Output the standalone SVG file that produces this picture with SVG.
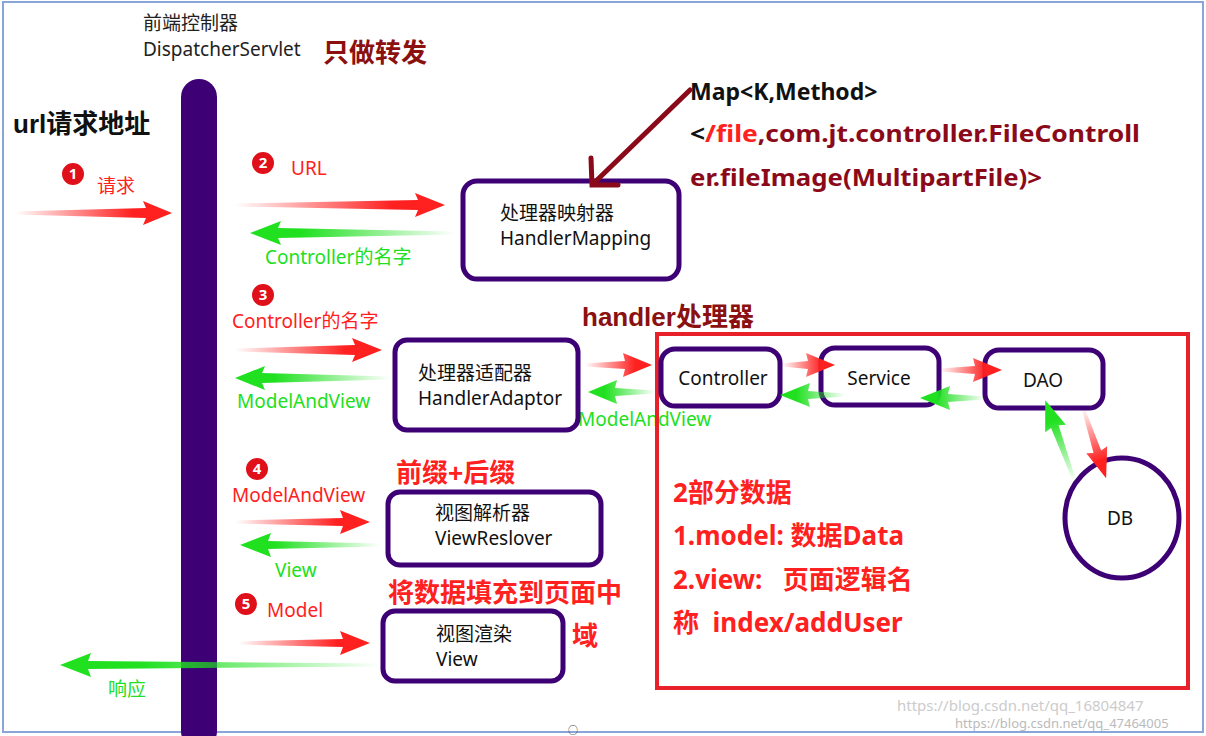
<svg xmlns="http://www.w3.org/2000/svg" width="1206" height="736" viewBox="0 0 1206 736">
<defs>
<linearGradient id="gr" x1="0" y1="0" x2="1" y2="0"><stop offset="0" stop-color="#ff2020" stop-opacity="0"/><stop offset="0.75" stop-color="#ff2020"/></linearGradient>
<linearGradient id="gl" x1="1" y1="0" x2="0" y2="0"><stop offset="0" stop-color="#20e020" stop-opacity="0"/><stop offset="0.75" stop-color="#20e020"/></linearGradient>
<linearGradient id="gg" x1="0" y1="0" x2="1" y2="0"><stop offset="0" stop-color="#20e020" stop-opacity="0"/><stop offset="0.75" stop-color="#20e020"/></linearGradient>
</defs>
<style>
text{font-family:"Noto Sans","Noto Sans CJK SC",sans-serif}
.n{font-size:19px;fill:#111}
.box{fill:#fff;stroke:#3d0075;stroke-width:5}
.r{fill:url(#gr)}
.l{fill:url(#gl)}
.g{fill:url(#gg)}
.red{fill:#ff2020;font-size:19px}
.grn{fill:#20e020;font-size:19px}
.bd{font-family:"Liberation Sans","Noto Sans CJK SC",sans-serif;font-weight:bold}
.pre{white-space:pre}
.badge circle{fill:#e0101a;stroke:#fff;stroke-width:2}
.badge text{fill:#fff;font-size:15px;font-weight:bold;text-anchor:middle}
</style>
<rect x="0" y="0" width="1206" height="736" fill="#fff"/>
<rect x="3" y="2" width="1200" height="730" fill="none" stroke="#8aa6d8" stroke-width="2"/>

<g id="dispatcher">
<rect x="181" y="79" width="36" height="670" rx="18" fill="#3d0075"/>
<text x="143" y="30" font-size="19" fill="#222">前端控制器</text>
<text x="143" y="56" font-size="19" fill="#222">DispatcherServlet</text>
<text x="323" y="62" class="bd" font-size="26" fill="#8b1010">只做转发</text>
</g>
<text x="13" y="133" class="bd" font-size="26" fill="#111">url请求地址</text>

<g id="badges">
<g class="badge"><circle cx="73" cy="174" r="12"/><text x="73" y="179">1</text></g>
<g class="badge"><circle cx="263" cy="163" r="12"/><text x="263" y="168">2</text></g>
<g class="badge"><circle cx="263" cy="295" r="12"/><text x="263" y="300">3</text></g>
<g class="badge"><circle cx="257" cy="469" r="12"/><text x="257" y="474">4</text></g>
<g class="badge"><circle cx="246" cy="604" r="12"/><text x="246" y="609">5</text></g>
</g>

<g id="labels">
<text x="97" y="193" class="red">请求</text>
<text x="291" y="175" class="red">URL</text>
<text x="265" y="264" class="grn">Controller的名字</text>
<text x="232" y="328" class="red">Controller的名字</text>
<text x="237" y="408" class="grn">ModelAndView</text>
<text x="578" y="426" class="grn">ModelAndView</text>
<text x="232" y="502" class="red">ModelAndView</text>
<text x="275" y="577" class="grn">View</text>
<text x="267" y="617" class="red">Model</text>
<text x="108" y="696" class="grn" font-size="18">响应</text>
<text x="396" y="482" class="bd" font-size="26" fill="#ff2020">前缀+后缀</text>
<text x="388" y="602" class="bd" font-size="26" fill="#ff2020">将数据填充到页面中</text>
<text x="572" y="645" class="bd" font-size="26" fill="#ff2020">域</text>
<text x="582" y="326" class="bd" font-size="26" fill="#8b1010">handler处理器</text>
</g>

<g id="maptext" class="bd" font-size="23">
<text x="690" y="100" fill="#111">Map&lt;K,Method&gt;</text>
<text x="690" y="142" fill="#8b0a1a" textLength="450" lengthAdjust="spacingAndGlyphs"><tspan fill="#111">&lt;</tspan><tspan fill="#ff2020">/file</tspan>,com.jt.controller.FileControll</text>
<text x="690" y="186" fill="#8b0a1a" textLength="352" lengthAdjust="spacingAndGlyphs">er.fileImage(MultipartFile)&gt;</text>
</g>

<g id="mapping"><rect class="box" x="463" y="181" width="216" height="98" rx="14"/>
<text class="n" x="500" y="220">处理器映射器</text><text class="n" x="500" y="245">HandlerMapping</text></g>
<g id="adaptor"><rect class="box" x="395" y="340" width="183" height="90" rx="12"/>
<text class="n" x="418" y="380">处理器适配器</text><text class="n" x="418" y="405">HandlerAdaptor</text></g>
<g id="resolver"><rect class="box" x="388" y="492" width="213" height="73" rx="12"/>
<text class="n" x="435" y="520">视图解析器</text><text class="n" x="435" y="545">ViewReslover</text></g>
<g id="view"><rect class="box" x="383" y="611" width="180" height="70" rx="12"/>
<text class="n" x="436" y="641">视图渲染</text><text class="n" x="436" y="666">View</text></g>

<g id="handler">
<rect x="657" y="334" width="531" height="354" fill="none" stroke="#e8202a" stroke-width="4"/>
<g class="bd" font-size="26" fill="#ff2020">
<text x="673" y="502">2部分数据</text>
<text x="673" y="545">1.model: 数据Data</text>
<text class="pre" x="673" y="589">2.view:   页面逻辑名</text>
<text class="pre" x="673" y="632">称  index/addUser</text>
</g>
</g>
<g id="controller"><rect class="box" x="661" y="349" width="119" height="57" rx="14"/><text class="n" x="723" y="385" text-anchor="middle">Controller</text></g>
<g id="service"><rect class="box" x="821" y="348" width="118" height="57" rx="14"/><text class="n" x="879" y="385" text-anchor="middle">Service</text></g>
<g id="dao"><rect class="box" x="985" y="350" width="118" height="58" rx="14"/><text class="n" x="1043" y="387" text-anchor="middle">DAO</text></g>
<g id="db"><ellipse cx="1122" cy="518" rx="57" ry="60" fill="#fff" stroke="#3d0075" stroke-width="5"/><text class="n" x="1120" y="525" text-anchor="middle">DB</text></g>

<g id="connectors">
<path class="r" d="M15,211.5 L146,208 L143,201 L172,213 L143,225 L146,218 L15,214.5Z"/>
<path class="r" d="M235,203.5 L418,200 L415,193 L445,205 L415,217 L418,210 L235,206.5Z"/>
<path class="l" d="M455,231.5 L278,228 L281,221 L250,233 L281,245 L278,238 L455,234.5Z"/>
<path class="r" d="M235,348.5 L355,345 L352,338 L382,350 L352,362 L355,355 L235,351.5Z"/>
<path class="l" d="M390,376.5 L262,373 L265,366 L235,378 L265,390 L262,383 L390,379.5Z"/>
<path class="r" d="M585,363.5 L625,361 L623,353 L652,365 L623,377 L625,369 L585,366.5Z"/>
<path class="l" d="M655,390.5 L615,388 L617,380 L588,392 L617,404 L615,396 L655,393.5Z"/>
<path class="r" d="M782,363.5 L808,361 L806,353 L835,365 L806,377 L808,369 L782,366.5Z"/>
<path class="l" d="M845,393.5 L808,391 L810,383 L780,395 L810,407 L808,399 L845,396.5Z"/>
<path class="r" d="M940,368.5 L975,366 L973,358 L1002,370 L973,382 L975,374 L940,371.5Z"/>
<path class="l" d="M985,396.5 L948,394 L950,386 L920,398 L950,410 L948,402 L985,399.5Z"/>
<path class="r" transform="translate(1083,408) rotate(71.8)" d="M0,-1.5 L46,-4 L44,-11 L74,0 L44,11 L46,4 L0,1.5Z"/>
<path class="g" transform="translate(1075,482) rotate(-110)" d="M0,-1.5 L59,-4 L57,-11 L87,0 L57,11 L59,4 L0,1.5Z"/>
<path class="r" d="M235,520.5 L343,518 L340,510 L370,522 L340,534 L343,526 L235,523.5Z"/>
<path class="l" d="M380,543.5 L268,541 L271,533 L240,545 L271,557 L268,549 L380,546.5Z"/>
<path class="r" d="M238,641.5 L343,639 L340,631 L370,643 L340,655 L343,647 L238,644.5Z"/>
<path class="l" d="M380,663.5 L88,661 L91,653 L60,665 L91,677 L88,669 L380,666.5Z"/>
<g stroke="#8b0a1a" stroke-width="5" fill="none" stroke-linecap="round">
<path d="M690,90 L594,183"/><path d="M591,158 L592,185 L618,185"/>
</g>
</g>
<text x="573" y="734" font-size="10" fill="#333" text-anchor="middle">○</text>
<text x="897" y="711" font-size="15" fill="#ccc">https://blog.csdn.net/qq_16804847</text>
<text x="955" y="728" font-size="13" fill="#bbb">https://blog.csdn.net/qq_47464005</text>
</svg>
